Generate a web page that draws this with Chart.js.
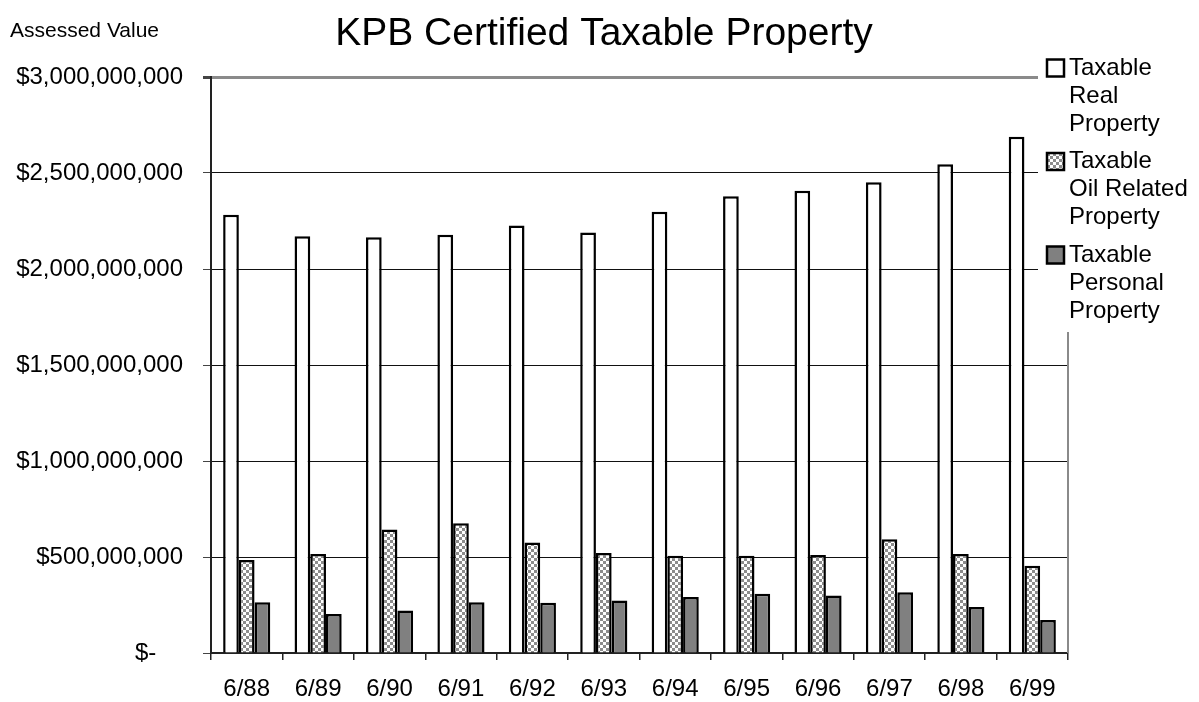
<!DOCTYPE html>
<html>
<head>
<meta charset="utf-8">
<script src="https://cdn.jsdelivr.net/npm/chart.js@4/dist/chart.umd.min.js"></script>
<style>
  html, body { margin: 0; padding: 0; background: #fff; }
  #wrap { width: 1199px; height: 702px; }
</style>
</head>
<body>
<div id="wrap"><canvas id="c" width="1199" height="702"></canvas></div>
<script>
// ---- data ----
const categories = ['6/88','6/89','6/90','6/91','6/92','6/93','6/94','6/95','6/96','6/97','6/98','6/99'];
const seriesNames = ['Taxable Real Property', 'Taxable Oil Related Property', 'Taxable Personal Property'];
const realProperty = [2282000000, 2171000000, 2165000000, 2178000000, 2226000000, 2190000000, 2298000000, 2379000000, 2407000000, 2452000000, 2546000000, 2689000000];
const oilProperty = [485000000, 516000000, 643000000, 676000000, 575000000, 521000000, 507000000, 507000000, 511000000, 593000000, 515000000, 454000000];
const personalProperty = [264000000, 203000000, 221000000, 264000000, 262000000, 273000000, 292000000, 309000000, 299000000, 316000000, 240000000, 172000000];
const chartTitle = 'KPB Certified Taxable Property';
const yAxisTitle = 'Assessed Value';
const yMax = 3000000000;
const yStep = 500000000;

const FONT = "'Liberation Sans', Arial, sans-serif";

function makePattern(ctx) {
  const p = document.createElement('canvas');
  p.width = 6; p.height = 6;
  const g = p.getContext('2d');
  g.fillStyle = '#ffffff'; g.fillRect(0, 0, 6, 6);
  g.fillStyle = '#8c8c8c';
  g.fillRect(0, 0, 3, 3);
  g.fillRect(3, 3, 3, 3);
  return ctx.createPattern(p, 'repeat');
}

function fmt(v) {
  if (v === 0) return '$-    ';
  const s = String(Math.round(v));
  return '$' + s.replace(/\B(?=(\d{3})+(?!\d))/g, ',');
}

// first word on its own line, remaining words wrapped to maxW
function wrapText(ctx, text, maxW) {
  const words = text.split(' ');
  const lines = [words[0]];
  let cur = '';
  for (const w of words.slice(1)) {
    const t = cur ? cur + ' ' + w : w;
    if (cur && ctx.measureText(t).width > maxW) { lines.push(cur); cur = w; }
    else cur = t;
  }
  if (cur) lines.push(cur);
  return lines;
}

const canvas = document.getElementById('c');
const ctx = canvas.getContext('2d');
const oilPattern = makePattern(ctx);
const fills = ['#ffffff', oilPattern, '#808080'];

const decor = {
  id: 'decor',
  afterDraw(chart) {
    const c = chart.ctx;
    const a = chart.chartArea;
    c.save();
    // right border of plot area
    c.strokeStyle = '#8a8a8a';
    c.lineWidth = 2;
    c.beginPath();
    c.moveTo(a.right, a.top);
    c.lineTo(a.right, a.bottom);
    c.stroke();
    // legend background
    c.fillStyle = '#ffffff';
    c.fillRect(1038, 0, 1199 - 1038, 332);
    // title
    c.fillStyle = '#000';
    c.font = '39px ' + FONT;
    c.textAlign = 'center';
    c.textBaseline = 'alphabetic';
    c.fillText(chartTitle, 604, 45);
    // axis caption
    c.font = '21px ' + FONT;
    c.textAlign = 'left';
    c.fillText(yAxisTitle, 10, 37);
    // legend
    c.font = '24px ' + FONT;
    c.textBaseline = 'middle';
    chart.data.datasets.forEach((ds, i) => {
      const y0 = 68 + i * 93.5;
      c.fillStyle = fills[i];
      c.fillRect(1047, y0 - 8.5, 17, 17);
      c.strokeStyle = '#000';
      c.lineWidth = 2.5;
      c.strokeRect(1047, y0 - 8.5, 17, 17);
      c.fillStyle = '#000';
      const lines = wrapText(c, ds.label, 125);
      lines.forEach((ln, j) => c.fillText(ln, 1069, y0 + j * 28));
    });
    c.restore();
  }
};

new Chart(ctx, {
  type: 'bar',
  data: {
    labels: categories,
    datasets: [
      { label: seriesNames[0], data: realProperty, backgroundColor: fills[0] },
      { label: seriesNames[1], data: oilProperty, backgroundColor: fills[1] },
      { label: seriesNames[2], data: personalProperty, backgroundColor: fills[2] }
    ]
  },
  options: {
    responsive: false,
    animation: false,
    layout: { padding: { top: 77, right: 131, bottom: 0, left: 0 } },
    datasets: {
      bar: {
        categoryPercentage: 0.66,
        barPercentage: 1.0,
        borderColor: '#000',
        borderWidth: 2.5
      }
    },
    plugins: {
      legend: { display: false },
      title: { display: false },
      tooltip: { enabled: false }
    },
    scales: {
      x: {
        offset: true,
        grid: {
          offset: true,
          drawOnChartArea: false,
          drawTicks: true,
          tickLength: 7,
          color: '#222',
          lineWidth: 1.5
        },
        border: { display: true, color: '#222', width: 2 },
        ticks: {
          color: '#000',
          font: { family: FONT, size: 24 },
          padding: 15,
          maxRotation: 0,
          autoSkip: false
        },
        afterFit(scale) { scale.height = 49; }
      },
      y: {
        min: 0,
        max: yMax,
        ticks: {
          stepSize: yStep,
          color: '#000',
          font: { family: FONT, size: 24 },
          padding: 20,
          callback: (v) => fmt(v)
        },
        grid: {
          drawTicks: true,
          tickLength: 8,
          color: (ctx) => (ctx.tick && ctx.tick.value === yMax) ? '#8a8a8a' : '#111',
          lineWidth: (ctx) => (ctx.tick && ctx.tick.value === yMax) ? 3 : 1,
          tickColor: '#444'
        },
        border: { display: true, color: '#222', width: 2 },
        afterFit(scale) { scale.width = 211; }
      }
    }
  },
  plugins: [decor]
});
</script>
</body>
</html>
